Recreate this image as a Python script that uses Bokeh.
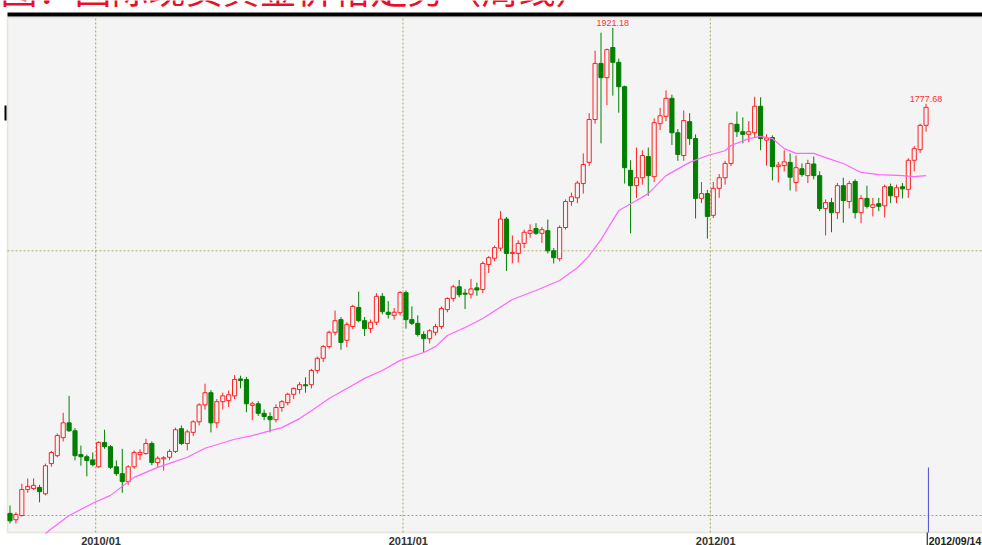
from bokeh.plotting import figure
from bokeh.models import Range1d, BoxAnnotation, ColumnDataSource
from bokeh.core.properties import value
from bokeh.embed import file_html
from bokeh.resources import INLINE

# ---------------- data (weekly spot gold) ----------------
opens = [1004, 992, 1000, 1049, 1051, 1053, 1041, 1098, 1113, 1147,
         1175, 1160, 1115, 1111, 1105, 1092, 1138, 1130, 1092, 1079,
         1064, 1092, 1115, 1117, 1136, 1100, 1107, 1110, 1121, 1164,
         1136, 1157, 1177, 1209, 1232, 1175, 1215, 1217, 1226, 1258,
         1257, 1208, 1211, 1193, 1187, 1181, 1204, 1213, 1229, 1238,
         1247, 1247, 1274, 1297, 1319, 1346, 1370, 1331, 1357, 1393,
         1368, 1353, 1365, 1414, 1384, 1378, 1383, 1421, 1370, 1363,
         1342, 1334, 1346, 1357, 1389, 1410, 1432, 1420, 1418, 1430,
         1427, 1474, 1486, 1505, 1560, 1495, 1495, 1514, 1533, 1542,
         1533, 1538, 1500, 1485, 1544, 1593, 1600, 1627, 1667, 1748,
         1854, 1827, 1884, 1856, 1810, 1652, 1623, 1638, 1678, 1640,
         1740, 1754, 1788, 1723, 1680, 1744, 1712, 1599, 1608, 1567,
         1618, 1638, 1665, 1739, 1725, 1720, 1723, 1773, 1709, 1714,
         1659, 1661, 1667, 1629, 1655, 1642, 1664, 1642, 1580, 1591,
         1572, 1623, 1593, 1631, 1572, 1599, 1582, 1589, 1585, 1621,
         1602, 1621, 1616, 1671, 1691, 1737]
highs = [1019, 1006, 1060, 1070, 1070, 1058, 1098, 1122, 1155, 1194,
         1226, 1165, 1132, 1115, 1119, 1140, 1162, 1133, 1104, 1126,
         1095, 1123, 1125, 1145, 1140, 1112, 1112, 1125, 1166, 1170,
         1162, 1180, 1212, 1249, 1237, 1220, 1232, 1236, 1265, 1264,
         1262, 1215, 1216, 1200, 1195, 1210, 1218, 1232, 1242, 1252,
         1261, 1277, 1300, 1322, 1349, 1387, 1375, 1365, 1398, 1423,
         1375, 1370, 1420, 1420, 1405, 1392, 1424, 1425, 1395, 1378,
         1348, 1352, 1362, 1395, 1412, 1436, 1445, 1428, 1447, 1440,
         1480, 1490, 1510, 1575, 1564, 1529, 1520, 1540, 1550, 1552,
         1545, 1559, 1505, 1548, 1597, 1610, 1632, 1684, 1760, 1878,
         1912, 1882, 1921.18, 1863, 1812, 1671, 1695, 1690, 1695, 1750,
         1770, 1803, 1795, 1730, 1765, 1760, 1720, 1630, 1615, 1630,
         1645, 1670, 1742, 1763, 1752, 1745, 1791, 1790, 1720, 1718,
         1668, 1690, 1684, 1680, 1665, 1672, 1678, 1650, 1597, 1600,
         1628, 1638, 1632, 1635, 1605, 1623, 1600, 1600, 1625, 1627,
         1625, 1628, 1675, 1698, 1740, 1777.68]
lows = [985, 985, 998, 1043, 1048, 1025, 1038, 1092, 1110, 1140,
        1158, 1104, 1094, 1074, 1093, 1090, 1126, 1088, 1075, 1043,
        1058, 1088, 1105, 1115, 1095, 1090, 1085, 1105, 1118, 1133,
        1123, 1150, 1170, 1200, 1157, 1165, 1200, 1205, 1220, 1240,
        1195, 1180, 1188, 1180, 1157, 1176, 1196, 1208, 1220, 1230,
        1232, 1240, 1268, 1290, 1315, 1340, 1313, 1318, 1352, 1365,
        1339, 1345, 1360, 1380, 1372, 1370, 1378, 1353, 1360, 1338,
        1308, 1325, 1340, 1352, 1384, 1404, 1412, 1390, 1410, 1415,
        1420, 1458, 1480, 1500, 1462, 1476, 1478, 1505, 1525, 1530,
        1515, 1495, 1476, 1480, 1540, 1585, 1590, 1608, 1660, 1740,
        1703, 1775, 1793, 1761, 1627, 1533, 1600, 1625, 1604, 1630,
        1728, 1745, 1700, 1670, 1670, 1700, 1561, 1590, 1523, 1562,
        1600, 1625, 1660, 1715, 1703, 1705, 1715, 1690, 1661, 1633,
        1629, 1650, 1614, 1612, 1640, 1628, 1635, 1575, 1529, 1535,
        1560, 1553, 1580, 1561, 1552, 1580, 1565, 1575, 1563, 1590,
        1590, 1599, 1600, 1650, 1685, 1725]
closes = [990, 1002, 1049, 1055, 1057, 1045, 1094, 1119, 1151, 1175,
          1160, 1113, 1111, 1104, 1096, 1138, 1130, 1091, 1079, 1064,
          1092, 1119, 1119, 1136, 1100, 1108, 1109, 1121, 1162, 1136,
          1158, 1177, 1209, 1232, 1175, 1215, 1226, 1228, 1257, 1255,
          1211, 1211, 1193, 1187, 1181, 1204, 1215, 1229, 1240, 1247,
          1245, 1274, 1297, 1319, 1346, 1368, 1327, 1361, 1395, 1368,
          1353, 1365, 1414, 1385, 1380, 1384, 1421, 1370, 1363, 1342,
          1334, 1349, 1357, 1391, 1410, 1432, 1417, 1418, 1428, 1426,
          1476, 1487, 1506, 1560, 1495, 1497, 1514, 1535, 1538, 1533,
          1540, 1500, 1487, 1544, 1593, 1602, 1628, 1663, 1748, 1854,
          1827, 1880, 1856, 1810, 1657, 1623, 1638, 1680, 1642, 1742,
          1755, 1788, 1723, 1682, 1746, 1712, 1599, 1608, 1565, 1618,
          1638, 1665, 1740, 1725, 1720, 1725, 1773, 1712, 1713, 1659,
          1662, 1668, 1639, 1657, 1644, 1665, 1642, 1580, 1591, 1572,
          1623, 1595, 1627, 1572, 1599, 1584, 1587, 1584, 1621, 1604,
          1619, 1617, 1671, 1693, 1737, 1771]

# moving-average line, read at selected weeks
ma_week = [6, 7, 10, 14, 17, 21, 25, 30, 33, 38, 41, 43, 46, 49, 51, 54, 57, 60,
           63, 66, 70, 72, 74, 77, 80, 85, 89, 93, 96, 98, 100, 103, 106, 108,
           111, 115, 118, 121, 122, 125, 127, 129, 131, 133, 136, 138, 141, 144,
           147, 151, 153, 155]
ma_value = [966, 975, 1000, 1023, 1038, 1072, 1091, 1110, 1127, 1144, 1151, 1157,
            1166, 1183, 1198, 1221, 1240, 1259, 1274, 1293, 1308, 1319, 1340, 1355,
            1372, 1408, 1425, 1444, 1468, 1491, 1521, 1576, 1595, 1608, 1642, 1667,
            1680, 1689, 1699, 1712, 1716, 1712, 1693, 1684, 1684, 1676, 1665, 1648,
            1644, 1642, 1640, 1642]

year_start_week = [15, 67, 119]
year_labels = ["2010/01", "2011/01", "2012/01"]
last_date_label = "2012/09/14"
marked_weeks = [102, 155]
price_grid = [1000, 1500]
title_text = "图：国际现货黄金价格走势（周线）"

# ---------------- layout helpers (pixel -> data, for frame decorations) ----------------
W, H = 982, 545
PX_PER_WEEK, X0_PX = 5.91, 9.5          # week 0 drawn at x = 9.5 px
PX_PER_USD, Y1000_PX = 0.5294, 515.0     # price 1000 drawn at y = 515 px


def wx(px):
    return (px - X0_PX) / PX_PER_WEEK


def py(px):
    return 1000 + (Y1000_PX - px) / PX_PER_USD


RED = "#ff2020"
GREEN = "#008000"
BG = "#f4f4f4"
OLIVE = "#b4b48a"
GRID = "#a8a860"

n = len(opens)
week = list(range(n))
up = [c >= o for o, c in zip(opens, closes)]
src = ColumnDataSource(dict(
    week=week, high=highs, low=lows,
    top=[max(o, c) for o, c in zip(opens, closes)],
    bottom=[min(o, c) for o, c in zip(opens, closes)],
    line=[RED if u else GREEN for u in up],
    fill=[BG if u else GREEN for u in up],
))

x_lo, x_hi = wx(0), wx(W)
y_lo, y_hi = py(H), py(0)
plot_left, plot_bottom, plot_top = wx(7), py(532), py(17)

p = figure(width=W, height=H, output_backend="svg", toolbar_location=None,
           x_range=Range1d(x_lo, x_hi), y_range=Range1d(y_lo, y_hi),
           min_border=0)
p.background_fill_color = "white"
p.border_fill_color = "white"
p.outline_line_color = None
p.xaxis.visible = False
p.yaxis.visible = False
p.grid.visible = False

# plot area
p.add_layout(BoxAnnotation(left=plot_left, right=x_hi + 5, bottom=plot_bottom,
                           top=plot_top, fill_color=BG, fill_alpha=1,
                           line_color=OLIVE, line_width=1.6, level="image"))
# black bar above plot area
p.add_layout(BoxAnnotation(left=plot_left, right=x_hi + 5, bottom=py(16),
                           top=py(12), fill_color="black", fill_alpha=1,
                           line_color=None, level="image"))

# grid (dotted): year boundaries and price levels
yb = [w - 0.5 for w in year_start_week]
p.segment(x0=yb, y0=[plot_bottom] * len(yb), x1=yb, y1=[plot_top] * len(yb),
          line_color=GRID, line_dash="2 2", line_width=1)
p.segment(x0=[plot_left] * len(price_grid), y0=price_grid,
          x1=[x_hi] * len(price_grid), y1=price_grid,
          line_color=GRID, line_dash="2 2", line_width=1)

# candles
p.segment(x0="week", y0="low", x1="week", y1="high", line_color="line",
          line_width=1, source=src)
p.vbar(x="week", width=0.7, top="top", bottom="bottom", fill_color="fill",
       line_color="line", line_width=1, source=src)

# moving average
p.line(ma_week, ma_value, line_color="#ff66ff", line_width=1.2)

# current bar cursor
cx = week[-1] + 0.4
p.segment(x0=[cx], y0=[plot_bottom], x1=[cx], y1=[py(467)],
          line_color="#4a4ad0", line_width=1)

# high labels
p.text(x=marked_weeks, y=[highs[i] for i in marked_weeks],
       text=["%.2f" % highs[i] for i in marked_weeks],
       text_font=value("Liberation Sans"), text_font_size="9px",
       text_color="#ff3030", text_align="center", text_baseline="bottom",
       y_offset=-2)

# date tick labels under the plot area
p.text(x=[w + 0.4 for w in year_start_week], y=[py(534)] * len(year_start_week),
       text=year_labels, text_font=value("Liberation Sans"),
       text_font_style="bold", text_font_size="11px", text_color="#333333",
       text_align="center", text_baseline="top")

# date of the last bar, with its marker line
p.segment(x0=[week[-1] + 0.2], y0=[plot_bottom], x1=[week[-1] + 0.2], y1=[y_lo],
          line_color="black", line_width=1)
p.text(x=[week[-1] + 0.45], y=[py(534)], text=[last_date_label],
       text_font=value("Liberation Sans"), text_font_style="bold",
       text_font_size="10.5px", text_color="#222222",
       text_align="left", text_baseline="top")

# small black marker at the left edge
p.segment(x0=[wx(5)], y0=[py(105)], x1=[wx(5)], y1=[py(120)],
          line_color="black", line_width=2)

# title (cut off at the top of the picture, as in the source)
p.text(x=[x_lo], y=[py(-13)], text=[title_text],
       text_font=value("Noto Sans CJK SC"), text_font_size="37px",
       text_color="#e8102a", text_align="left", text_baseline="alphabetic")

open("out.html", "w").write(file_html(p, INLINE))
